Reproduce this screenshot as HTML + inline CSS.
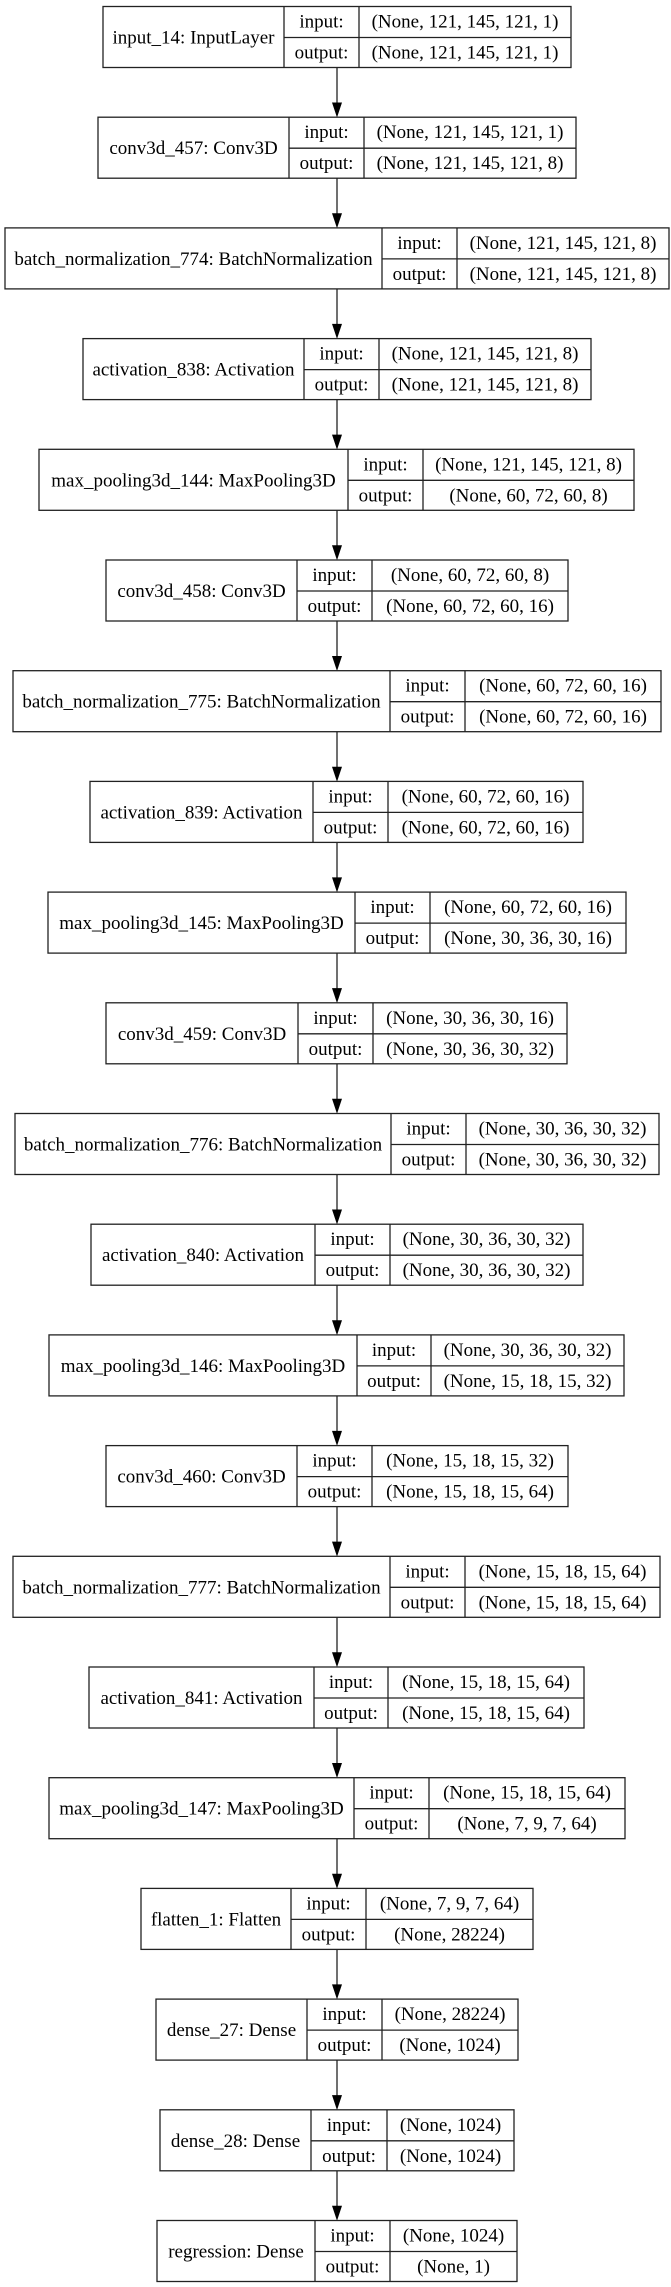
<!DOCTYPE html>
<html><head><meta charset="utf-8"><style>
html,body{margin:0;padding:0;background:#fff;}
svg{display:block;}
text{font-family:"Liberation Serif",serif;font-size:19px;fill:#000;}
.b{fill:#fff;stroke:#222;stroke-width:1.3;}
.l{stroke:#222;stroke-width:1.3;fill:none;}
</style></head><body>
<svg width="671" height="2287" viewBox="0 0 671 2287" xmlns="http://www.w3.org/2000/svg">
<defs>
<g id="arr"><line class="l" x1="337" y1="0" x2="337" y2="36"/><polygon points="332,35 342,35 337,50" fill="#000"/></g>
</defs>
<!-- arrows -->
<use href="#arr" y="67.5"/><use href="#arr" y="178.2"/><use href="#arr" y="288.9"/><use href="#arr" y="399.6"/><use href="#arr" y="510.3"/><use href="#arr" y="621"/><use href="#arr" y="731.7"/><use href="#arr" y="842.4"/><use href="#arr" y="953.1"/><use href="#arr" y="1063.8"/><use href="#arr" y="1174.5"/><use href="#arr" y="1285.2"/><use href="#arr" y="1395.9"/><use href="#arr" y="1506.6"/><use href="#arr" y="1617.3"/><use href="#arr" y="1728"/><use href="#arr" y="1838.7"/><use href="#arr" y="1949.4"/><use href="#arr" y="2060.1"/><use href="#arr" y="2170.8"/>

<g transform="translate(0,6.5)"><rect class="b" x="103" y="0" width="468" height="61"/><line class="l" x1="284" y1="0" x2="284" y2="61"/><line class="l" x1="359" y1="0" x2="359" y2="61"/><line class="l" x1="284" y1="31" x2="571" y2="31"/>
<text x="193.5" y="37" text-anchor="middle">input_14: InputLayer</text><text x="321.5" y="21" text-anchor="middle">input:</text><text x="321.5" y="52" text-anchor="middle">output:</text><text x="465" y="21" text-anchor="middle">(None, 121, 145, 121, 1)</text><text x="465" y="52" text-anchor="middle">(None, 121, 145, 121, 1)</text></g>

<g transform="translate(0,117.2)"><rect class="b" x="98" y="0" width="478" height="61"/><line class="l" x1="289" y1="0" x2="289" y2="61"/><line class="l" x1="364" y1="0" x2="364" y2="61"/><line class="l" x1="289" y1="31" x2="576" y2="31"/>
<text x="193.5" y="37" text-anchor="middle">conv3d_457: Conv3D</text><text x="326.5" y="21" text-anchor="middle">input:</text><text x="326.5" y="52" text-anchor="middle">output:</text><text x="470" y="21" text-anchor="middle">(None, 121, 145, 121, 1)</text><text x="470" y="52" text-anchor="middle">(None, 121, 145, 121, 8)</text></g>

<g transform="translate(0,227.9)"><rect class="b" x="5" y="0" width="664" height="61"/><line class="l" x1="382" y1="0" x2="382" y2="61"/><line class="l" x1="457" y1="0" x2="457" y2="61"/><line class="l" x1="382" y1="31" x2="669" y2="31"/>
<text x="193.5" y="37" text-anchor="middle">batch_normalization_774: BatchNormalization</text><text x="419.5" y="21" text-anchor="middle">input:</text><text x="419.5" y="52" text-anchor="middle">output:</text><text x="563" y="21" text-anchor="middle">(None, 121, 145, 121, 8)</text><text x="563" y="52" text-anchor="middle">(None, 121, 145, 121, 8)</text></g>

<g transform="translate(0,338.6)"><rect class="b" x="83" y="0" width="508" height="61"/><line class="l" x1="304" y1="0" x2="304" y2="61"/><line class="l" x1="379" y1="0" x2="379" y2="61"/><line class="l" x1="304" y1="31" x2="591" y2="31"/>
<text x="193.5" y="37" text-anchor="middle">activation_838: Activation</text><text x="341.5" y="21" text-anchor="middle">input:</text><text x="341.5" y="52" text-anchor="middle">output:</text><text x="485" y="21" text-anchor="middle">(None, 121, 145, 121, 8)</text><text x="485" y="52" text-anchor="middle">(None, 121, 145, 121, 8)</text></g>

<g transform="translate(0,449.3)"><rect class="b" x="39" y="0" width="595" height="61"/><line class="l" x1="348" y1="0" x2="348" y2="61"/><line class="l" x1="423" y1="0" x2="423" y2="61"/><line class="l" x1="348" y1="31" x2="634" y2="31"/>
<text x="193.5" y="37" text-anchor="middle">max_pooling3d_144: MaxPooling3D</text><text x="385.5" y="21" text-anchor="middle">input:</text><text x="385.5" y="52" text-anchor="middle">output:</text><text x="528.5" y="21" text-anchor="middle">(None, 121, 145, 121, 8)</text><text x="528.5" y="52" text-anchor="middle">(None, 60, 72, 60, 8)</text></g>

<g transform="translate(0,560)"><rect class="b" x="106" y="0" width="462" height="61"/><line class="l" x1="297" y1="0" x2="297" y2="61"/><line class="l" x1="372" y1="0" x2="372" y2="61"/><line class="l" x1="297" y1="31" x2="568" y2="31"/>
<text x="201.5" y="37" text-anchor="middle">conv3d_458: Conv3D</text><text x="334.5" y="21" text-anchor="middle">input:</text><text x="334.5" y="52" text-anchor="middle">output:</text><text x="470" y="21" text-anchor="middle">(None, 60, 72, 60, 8)</text><text x="470" y="52" text-anchor="middle">(None, 60, 72, 60, 16)</text></g>

<g transform="translate(0,670.7)"><rect class="b" x="13" y="0" width="648" height="61"/><line class="l" x1="390" y1="0" x2="390" y2="61"/><line class="l" x1="465" y1="0" x2="465" y2="61"/><line class="l" x1="390" y1="31" x2="661" y2="31"/>
<text x="201.5" y="37" text-anchor="middle">batch_normalization_775: BatchNormalization</text><text x="427.5" y="21" text-anchor="middle">input:</text><text x="427.5" y="52" text-anchor="middle">output:</text><text x="563" y="21" text-anchor="middle">(None, 60, 72, 60, 16)</text><text x="563" y="52" text-anchor="middle">(None, 60, 72, 60, 16)</text></g>

<g transform="translate(0,781.4)"><rect class="b" x="90" y="0" width="493" height="61"/><line class="l" x1="313" y1="0" x2="313" y2="61"/><line class="l" x1="388" y1="0" x2="388" y2="61"/><line class="l" x1="313" y1="31" x2="583" y2="31"/>
<text x="201.5" y="37" text-anchor="middle">activation_839: Activation</text><text x="350.5" y="21" text-anchor="middle">input:</text><text x="350.5" y="52" text-anchor="middle">output:</text><text x="485.5" y="21" text-anchor="middle">(None, 60, 72, 60, 16)</text><text x="485.5" y="52" text-anchor="middle">(None, 60, 72, 60, 16)</text></g>

<g transform="translate(0,892.1)"><rect class="b" x="48" y="0" width="578" height="61"/><line class="l" x1="355" y1="0" x2="355" y2="61"/><line class="l" x1="430" y1="0" x2="430" y2="61"/><line class="l" x1="355" y1="31" x2="626" y2="31"/>
<text x="201.5" y="37" text-anchor="middle">max_pooling3d_145: MaxPooling3D</text><text x="392.5" y="21" text-anchor="middle">input:</text><text x="392.5" y="52" text-anchor="middle">output:</text><text x="528" y="21" text-anchor="middle">(None, 60, 72, 60, 16)</text><text x="528" y="52" text-anchor="middle">(None, 30, 36, 30, 16)</text></g>

<g transform="translate(0,1002.8)"><rect class="b" x="106" y="0" width="461" height="61"/><line class="l" x1="298" y1="0" x2="298" y2="61"/><line class="l" x1="373" y1="0" x2="373" y2="61"/><line class="l" x1="298" y1="31" x2="567" y2="31"/>
<text x="202" y="37" text-anchor="middle">conv3d_459: Conv3D</text><text x="335.5" y="21" text-anchor="middle">input:</text><text x="335.5" y="52" text-anchor="middle">output:</text><text x="470" y="21" text-anchor="middle">(None, 30, 36, 30, 16)</text><text x="470" y="52" text-anchor="middle">(None, 30, 36, 30, 32)</text></g>

<g transform="translate(0,1113.5)"><rect class="b" x="15" y="0" width="644" height="61"/><line class="l" x1="391" y1="0" x2="391" y2="61"/><line class="l" x1="466" y1="0" x2="466" y2="61"/><line class="l" x1="391" y1="31" x2="659" y2="31"/>
<text x="203" y="37" text-anchor="middle">batch_normalization_776: BatchNormalization</text><text x="428.5" y="21" text-anchor="middle">input:</text><text x="428.5" y="52" text-anchor="middle">output:</text><text x="562.5" y="21" text-anchor="middle">(None, 30, 36, 30, 32)</text><text x="562.5" y="52" text-anchor="middle">(None, 30, 36, 30, 32)</text></g>

<g transform="translate(0,1224.2)"><rect class="b" x="91" y="0" width="492" height="61"/><line class="l" x1="315" y1="0" x2="315" y2="61"/><line class="l" x1="390" y1="0" x2="390" y2="61"/><line class="l" x1="315" y1="31" x2="583" y2="31"/>
<text x="203" y="37" text-anchor="middle">activation_840: Activation</text><text x="352.5" y="21" text-anchor="middle">input:</text><text x="352.5" y="52" text-anchor="middle">output:</text><text x="486.5" y="21" text-anchor="middle">(None, 30, 36, 30, 32)</text><text x="486.5" y="52" text-anchor="middle">(None, 30, 36, 30, 32)</text></g>

<g transform="translate(0,1334.9)"><rect class="b" x="49" y="0" width="575" height="61"/><line class="l" x1="357" y1="0" x2="357" y2="61"/><line class="l" x1="431" y1="0" x2="431" y2="61"/><line class="l" x1="357" y1="31" x2="624" y2="31"/>
<text x="203" y="37" text-anchor="middle">max_pooling3d_146: MaxPooling3D</text><text x="394" y="21" text-anchor="middle">input:</text><text x="394" y="52" text-anchor="middle">output:</text><text x="527.5" y="21" text-anchor="middle">(None, 30, 36, 30, 32)</text><text x="527.5" y="52" text-anchor="middle">(None, 15, 18, 15, 32)</text></g>

<g transform="translate(0,1445.6)"><rect class="b" x="106" y="0" width="462" height="61"/><line class="l" x1="297" y1="0" x2="297" y2="61"/><line class="l" x1="372" y1="0" x2="372" y2="61"/><line class="l" x1="297" y1="31" x2="568" y2="31"/>
<text x="201.5" y="37" text-anchor="middle">conv3d_460: Conv3D</text><text x="334.5" y="21" text-anchor="middle">input:</text><text x="334.5" y="52" text-anchor="middle">output:</text><text x="470" y="21" text-anchor="middle">(None, 15, 18, 15, 32)</text><text x="470" y="52" text-anchor="middle">(None, 15, 18, 15, 64)</text></g>

<g transform="translate(0,1556.3)"><rect class="b" x="13" y="0" width="647" height="61"/><line class="l" x1="390" y1="0" x2="390" y2="61"/><line class="l" x1="465" y1="0" x2="465" y2="61"/><line class="l" x1="390" y1="31" x2="660" y2="31"/>
<text x="201.5" y="37" text-anchor="middle">batch_normalization_777: BatchNormalization</text><text x="427.5" y="21" text-anchor="middle">input:</text><text x="427.5" y="52" text-anchor="middle">output:</text><text x="562.5" y="21" text-anchor="middle">(None, 15, 18, 15, 64)</text><text x="562.5" y="52" text-anchor="middle">(None, 15, 18, 15, 64)</text></g>

<g transform="translate(0,1667)"><rect class="b" x="89" y="0" width="495" height="61"/><line class="l" x1="314" y1="0" x2="314" y2="61"/><line class="l" x1="388" y1="0" x2="388" y2="61"/><line class="l" x1="314" y1="31" x2="584" y2="31"/>
<text x="201.5" y="37" text-anchor="middle">activation_841: Activation</text><text x="351" y="21" text-anchor="middle">input:</text><text x="351" y="52" text-anchor="middle">output:</text><text x="486" y="21" text-anchor="middle">(None, 15, 18, 15, 64)</text><text x="486" y="52" text-anchor="middle">(None, 15, 18, 15, 64)</text></g>

<g transform="translate(0,1777.7)"><rect class="b" x="49" y="0" width="576" height="61"/><line class="l" x1="354" y1="0" x2="354" y2="61"/><line class="l" x1="429" y1="0" x2="429" y2="61"/><line class="l" x1="354" y1="31" x2="625" y2="31"/>
<text x="201.5" y="37" text-anchor="middle">max_pooling3d_147: MaxPooling3D</text><text x="391.5" y="21" text-anchor="middle">input:</text><text x="391.5" y="52" text-anchor="middle">output:</text><text x="527" y="21" text-anchor="middle">(None, 15, 18, 15, 64)</text><text x="527" y="52" text-anchor="middle">(None, 7, 9, 7, 64)</text></g>

<g transform="translate(0,1888.4)"><rect class="b" x="141" y="0" width="392" height="61"/><line class="l" x1="291" y1="0" x2="291" y2="61"/><line class="l" x1="366" y1="0" x2="366" y2="61"/><line class="l" x1="291" y1="31" x2="533" y2="31"/>
<text x="216" y="37" text-anchor="middle">flatten_1: Flatten</text><text x="328.5" y="21" text-anchor="middle">input:</text><text x="328.5" y="52" text-anchor="middle">output:</text><text x="449.5" y="21" text-anchor="middle">(None, 7, 9, 7, 64)</text><text x="449.5" y="52" text-anchor="middle">(None, 28224)</text></g>

<g transform="translate(0,1999.1)"><rect class="b" x="156" y="0" width="362" height="61"/><line class="l" x1="307" y1="0" x2="307" y2="61"/><line class="l" x1="382" y1="0" x2="382" y2="61"/><line class="l" x1="307" y1="31" x2="518" y2="31"/>
<text x="231.5" y="37" text-anchor="middle">dense_27: Dense</text><text x="344.5" y="21" text-anchor="middle">input:</text><text x="344.5" y="52" text-anchor="middle">output:</text><text x="450" y="21" text-anchor="middle">(None, 28224)</text><text x="450" y="52" text-anchor="middle">(None, 1024)</text></g>

<g transform="translate(0,2109.8)"><rect class="b" x="160" y="0" width="354" height="61"/><line class="l" x1="311" y1="0" x2="311" y2="61"/><line class="l" x1="387" y1="0" x2="387" y2="61"/><line class="l" x1="311" y1="31" x2="514" y2="31"/>
<text x="235.5" y="37" text-anchor="middle">dense_28: Dense</text><text x="349" y="21" text-anchor="middle">input:</text><text x="349" y="52" text-anchor="middle">output:</text><text x="450.5" y="21" text-anchor="middle">(None, 1024)</text><text x="450.5" y="52" text-anchor="middle">(None, 1024)</text></g>

<g transform="translate(0,2220.5)"><rect class="b" x="157" y="0" width="360" height="61"/><line class="l" x1="315" y1="0" x2="315" y2="61"/><line class="l" x1="390" y1="0" x2="390" y2="61"/><line class="l" x1="315" y1="31" x2="517" y2="31"/>
<text x="236" y="37" text-anchor="middle">regression: Dense</text><text x="352.5" y="21" text-anchor="middle">input:</text><text x="352.5" y="52" text-anchor="middle">output:</text><text x="453.5" y="21" text-anchor="middle">(None, 1024)</text><text x="453.5" y="52" text-anchor="middle">(None, 1)</text></g>
</svg>
</body></html>
